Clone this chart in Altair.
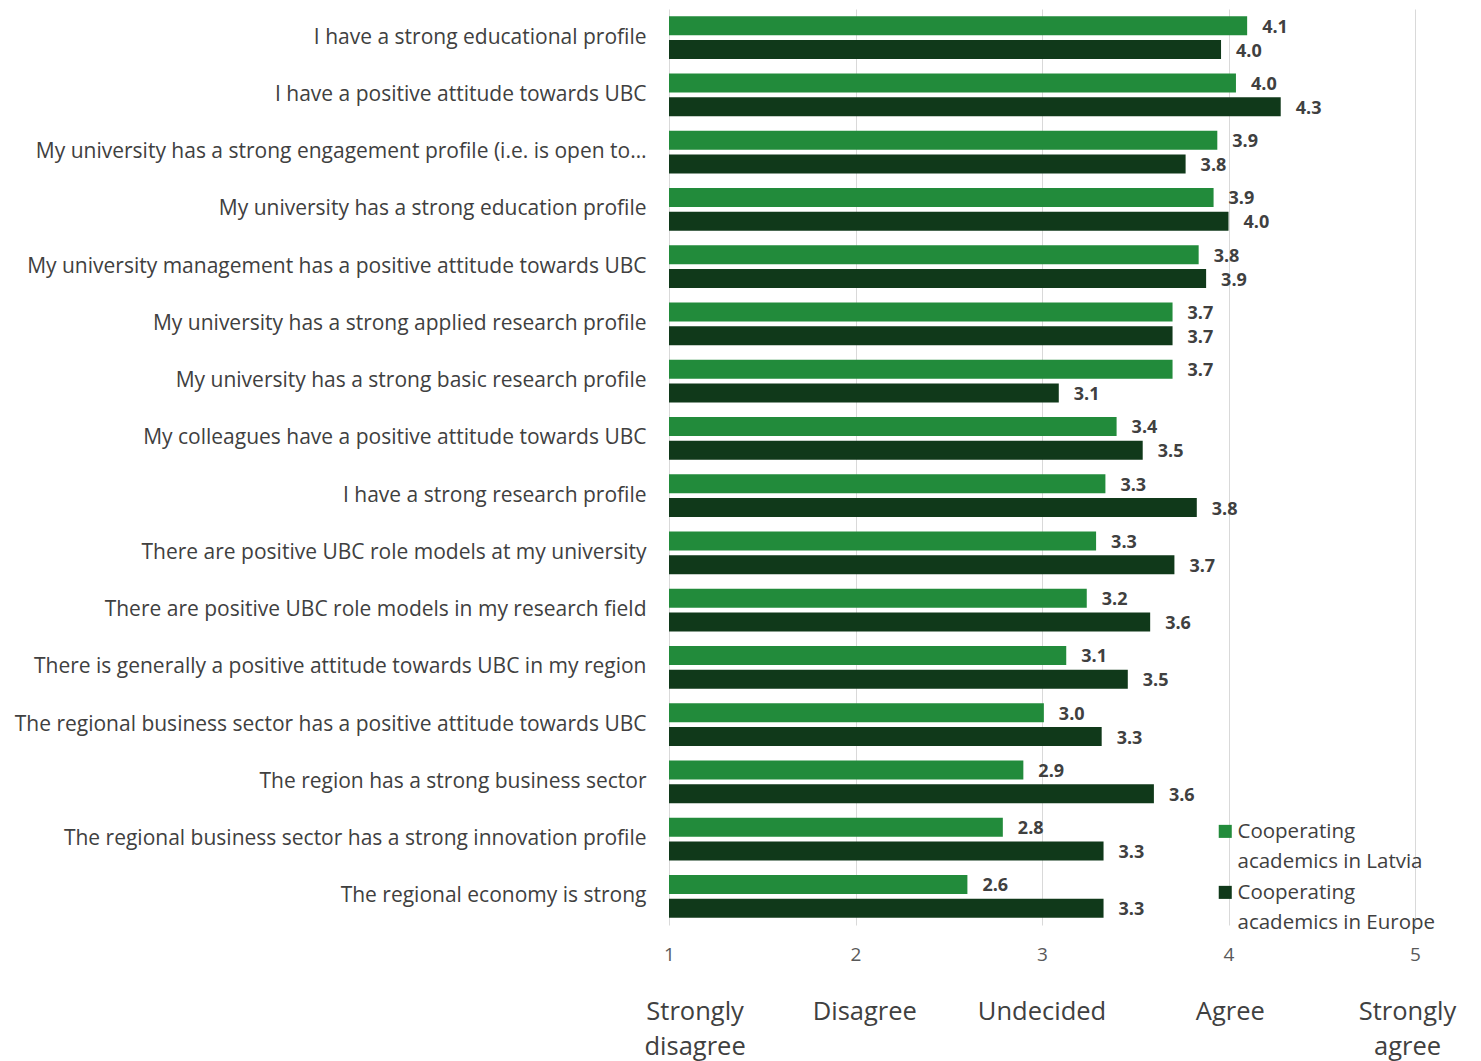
import altair as alt
import pandas as pd

statements = [
    "I have a strong educational profile",
    "I have a positive attitude towards UBC",
    "My university has a strong engagement profile (i.e. is open to…",
    "My university has a strong education profile",
    "My university management has a positive attitude towards UBC",
    "My university has a strong applied research profile",
    "My university has a strong basic research profile",
    "My colleagues have a positive attitude towards UBC",
    "I have a strong research profile",
    "There are positive UBC role models at my university",
    "There are positive UBC role models in my research field",
    "There is generally a positive attitude towards UBC in my region",
    "The regional business sector has a positive attitude towards UBC",
    "The region has a strong business sector",
    "The regional business sector has a strong innovation profile",
    "The regional economy is strong",
]
latvia = [4.10, 4.04, 3.94, 3.92, 3.84, 3.70, 3.70, 3.40, 3.34, 3.29, 3.24, 3.13, 3.01, 2.90, 2.79, 2.60]
europe = [3.96, 4.28, 3.77, 4.00, 3.88, 3.70, 3.09, 3.54, 3.83, 3.71, 3.58, 3.46, 3.32, 3.60, 3.33, 3.33]

series_names = ["Cooperating academics in Latvia", "Cooperating academics in Europe"]
series_colors = ["#228b3b", "#10391a"]

scale_ticks = [1, 2, 3, 4, 5]
scale_words = ["Strongly\ndisagree", "Disagree", "Undecided", "Agree", "Strongly\nagree"]
scale_word_pos = [1.14, 2.05, 3.0, 4.01, 4.96]

rows = []
for s, a, b in zip(statements, latvia, europe):
    rows.append({"statement": s, "series": series_names[0], "score": a})
    rows.append({"statement": s, "series": series_names[1], "score": b})
df = pd.DataFrame(rows)
words_df = pd.DataFrame({"pos": scale_word_pos, "word": scale_words})

FONT = "Open Sans"
TXT = "#404040"

x_scale = alt.Scale(domain=[1, 5], zero=False, nice=False)
y_enc = alt.Y(
    "statement:N",
    sort=statements,
    title=None,
    scale=alt.Scale(paddingInner=0.25, paddingOuter=0.125),
    axis=alt.Axis(
        ticks=False, domain=False, labelFontSize=21, labelColor=TXT,
        labelFont=FONT, labelPadding=23, labelLimit=800,
    ),
)
yoff_enc = alt.YOffset(
    "series:N", sort=series_names, scale=alt.Scale(paddingInner=0.2, paddingOuter=0)
)

legend_lines = (
    "datum.label == 'Cooperating academics in Latvia' "
    "? ['Cooperating', 'academics in Latvia'] "
    ": ['Cooperating', 'academics in Europe']"
)
# square swatch drawn a little below the entry anchor so it sits beside the first text line
swatch = "M-1,0.4H1V2.4H-1Z"

bars = alt.Chart(df).mark_bar().encode(
    x=alt.X(
        "score:Q", scale=x_scale, title=None,
        axis=alt.Axis(
            values=scale_ticks, format="d", grid=True, gridColor="#d9d9d9",
            domain=False, ticks=False, labelFontSize=19, labelColor="#595959",
            labelFont=FONT, labelPadding=20, labelFlush=False,
        ),
    ),
    x2=alt.datum(1),
    y=y_enc,
    yOffset=yoff_enc,
    color=alt.Color(
        "series:N",
        scale=alt.Scale(domain=series_names, range=series_colors),
        legend=alt.Legend(
            title=None, orient="none", legendX=546, legendY=803,
            symbolType=swatch, symbolSize=170, symbolStrokeWidth=0,
            labelFont=FONT, labelFontSize=20.5, labelColor=TXT, labelLimit=400,
            labelExpr=legend_lines, labelBaseline="top", rowPadding=-10, labelOffset=2,
        ),
    ),
)

values = alt.Chart(df).mark_text(
    align="left", baseline="middle", dx=15, dy=2, fontSize=18, fontWeight="bold",
    font=FONT, color=TXT,
).encode(
    x=alt.X("score:Q", scale=x_scale),
    y=alt.Y("statement:N", sort=statements),
    yOffset=alt.YOffset("series:N", sort=series_names),
    text=alt.Text("score:Q", format=".1f"),
)

words = alt.Chart(words_df).mark_text(
    align="center", baseline="top", fontSize=25.5, font=FONT, color=TXT,
    lineBreak="\n", lineHeight=35,
).encode(
    x=alt.X("pos:Q", scale=x_scale),
    y=alt.value(991),
    text="word:N",
)

chart = (
    alt.layer(bars, values, words)
    .properties(
        width=746, height=916,
        autosize=alt.AutoSizeParams(type="none"),
        padding={"left": 669, "top": 9, "right": 66, "bottom": 136},
        background="white",
    )
    .configure(style={"guide-label": {"lineHeight": 30}})
    .configure_view(stroke=None)
)

chart.save("out.html", embed_options={"renderer": "svg", "actions": False})
